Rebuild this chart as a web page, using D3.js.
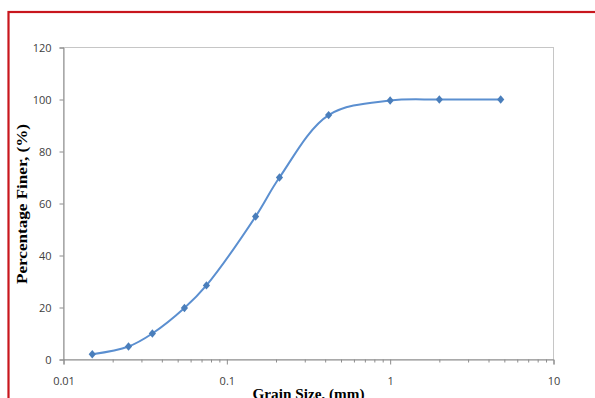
<!DOCTYPE html>
<html><head><meta charset="utf-8">
<script src="https://cdn.jsdelivr.net/npm/d3@7"></script>
<style>html,body{margin:0;padding:0;background:#fff;overflow:hidden}</style>
</head><body>
<svg id="chart" width="595" height="398"></svg>
<script>
const grainSize = [0.015, 0.025, 0.035, 0.055, 0.075, 0.15, 0.21, 0.42, 1.0, 2.0, 4.75];
const percentFiner = [2, 5, 10, 19.8, 28.5, 55, 70, 94, 99.6, 100, 100];
const xTickValues = [0.01, 0.1, 1, 10];
const xTickLabels = ["0.01", "0.1", "1", "10"];
const yTickValues = [0, 20, 40, 60, 80, 100, 120];

const svg = d3.select("#chart");
const L = 63.5, R = 553.5, T = 47.5, B = 359.5;
const x = d3.scaleLog().domain([0.01, 10]).range([L, R]);
const y = d3.scaleLinear().domain([0, 120]).range([B, T]);
const tickFont = "'Open Sans', 'Liberation Sans', sans-serif";
const titleFont = "'Liberation Serif', 'Times New Roman', serif";

// red frame
svg.append("rect").attr("x", 8.5).attr("y", 12).attr("width", 620).attr("height", 420)
  .attr("fill", "none").attr("stroke", "#c8161d").attr("stroke-width", 2.2);

// plot box
svg.append("rect").attr("x", L).attr("y", T).attr("width", R - L).attr("height", B - T)
  .attr("fill", "none").attr("stroke", "#c6c6c6").attr("stroke-width", 1);

// y axis
const yAxis = d3.axisLeft(y).tickValues(yTickValues).tickSize(4).tickPadding(8);
const gy = svg.append("g").attr("transform", `translate(${L},0)`).call(yAxis);
gy.select(".domain").attr("stroke", "#8c8c8c");
gy.selectAll(".tick line").attr("stroke", "#8c8c8c");
gy.selectAll(".tick text").attr("fill", "#404040").style("font-family", tickFont).style("font-size", "11px");

// x axis minor ticks
const minor = [];
[0.01, 0.1, 1].forEach(d => { for (let k = 2; k <= 9; k++) minor.push(d * k); });
const gxm = svg.append("g").attr("transform", `translate(0,${B})`)
  .call(d3.axisBottom(x).tickValues(minor).tickSize(3).tickFormat(""));
gxm.select(".domain").remove();
gxm.selectAll(".tick line").attr("stroke", "#8c8c8c");

const gx = svg.append("g").attr("transform", `translate(0,${B})`)
  .call(d3.axisBottom(x).tickValues(xTickValues).tickSize(5).tickPadding(13)
    .tickFormat((d, i) => xTickLabels[i]));
gx.select(".domain").attr("stroke", "#8c8c8c");
gx.selectAll(".tick line").attr("stroke", "#8c8c8c");
gx.selectAll(".tick text").attr("fill", "#404040").style("font-family", tickFont).style("font-size", "11px");

// line
const data = grainSize.map((g, i) => ({g, p: percentFiner[i]}));
const line = d3.line().x(d => x(d.g)).y(d => y(d.p)).curve(d3.curveCatmullRom.alpha(0.5));
svg.append("path").datum(data).attr("d", line)
  .attr("fill", "none").attr("stroke", "#5b8fd0").attr("stroke-width", 2);

// markers (diamonds)
svg.append("g").selectAll("path").data(data).join("path")
  .attr("transform", d => `translate(${x(d.g)},${y(d.p)})`)
  .attr("d", "M0,-4.2L3.6,0L0,4.2L-3.6,0Z")
  .attr("fill", "#4a7ebb");

// axis titles
svg.append("text").attr("transform", `translate(27,${204}) rotate(-90)`)
  .attr("text-anchor", "middle").style("font-family", titleFont)
  .style("font-weight", "bold").style("font-size", "14px").attr("fill", "#000")
  .attr("textLength", 160).attr("lengthAdjust", "spacingAndGlyphs")
  .text("Percentage Finer, (%)");
svg.append("text").attr("x", 308.5).attr("y", 399)
  .attr("text-anchor", "middle").style("font-family", titleFont)
  .style("font-weight", "bold").style("font-size", "14px").attr("fill", "#000")
  .attr("textLength", 112).attr("lengthAdjust", "spacingAndGlyphs")
  .text("Grain Size, (mm)");
</script>
</body></html>
